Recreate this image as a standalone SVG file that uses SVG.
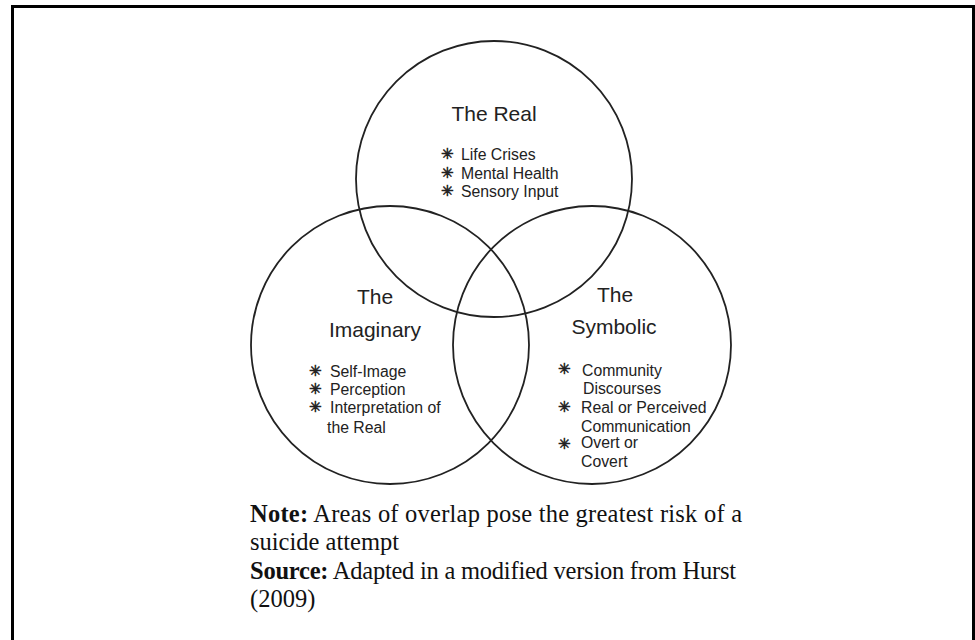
<svg xmlns="http://www.w3.org/2000/svg" width="975" height="640" viewBox="0 0 975 640">
<style>
.bg{fill:#fff}
.frame{fill:none;stroke:#000;stroke-width:3}
.circ{fill:none;stroke:#222;stroke-width:1.8}
.title{font-family:"Liberation Sans",Arial,sans-serif;font-size:21px;fill:#222;text-anchor:middle}
.item{font-family:"Liberation Sans",Arial,sans-serif;font-size:15.8px;fill:#222}
.star{font-family:"DejaVu Sans",sans-serif;font-size:15px;fill:#222;stroke:#222;stroke-width:0.6}
.note{font-family:"Liberation Serif","Times New Roman",serif;font-size:24.5px;fill:#111}
.b{font-weight:bold}
</style>
<rect class="bg" x="0" y="0" width="975" height="640"/>
<rect class="frame" x="12.5" y="6.5" width="961" height="700"/>
<g id="connectors"></g>
<g id="real">
<circle class="circ" cx="494" cy="179" r="138"/>
<text class="title" x="494" y="121">The Real</text>
<text class="star" x="441" y="159">&#x2733;&#xFE0E;</text><text class="item" x="461" y="160">Life Crises</text>
<text class="star" x="441" y="178">&#x2733;&#xFE0E;</text><text class="item" x="461" y="179">Mental Health</text>
<text class="star" x="441" y="196">&#x2733;&#xFE0E;</text><text class="item" x="461" y="197">Sensory Input</text>
</g>
<g id="imaginary">
<circle class="circ" cx="390" cy="345" r="139"/>
<text class="title" x="375" y="304">The</text>
<text class="title" x="375" y="337">Imaginary</text>
<text class="star" x="309" y="376">&#x2733;&#xFE0E;</text><text class="item" x="330" y="377">Self-Image</text>
<text class="star" x="309" y="394">&#x2733;&#xFE0E;</text><text class="item" x="330" y="395">Perception</text>
<text class="star" x="309" y="412">&#x2733;&#xFE0E;</text><text class="item" x="330" y="413">Interpretation of</text>
<text class="item" x="327" y="433">the Real</text>
</g>
<g id="symbolic">
<circle class="circ" cx="592" cy="345" r="139"/>
<text class="title" x="615" y="302">The</text>
<text class="title" x="614" y="334">Symbolic</text>
<text class="star" x="558" y="374">&#x2733;&#xFE0E;</text><text class="item" x="582" y="376">Community</text>
<text class="item" x="583" y="394">Discourses</text>
<text class="star" x="558" y="412">&#x2733;&#xFE0E;</text><text class="item" x="581" y="413">Real or Perceived</text>
<text class="item" x="581" y="432">Communication</text>
<text class="star" x="558" y="449">&#x2733;&#xFE0E;</text><text class="item" x="581" y="448">Overt or</text>
<text class="item" x="581" y="467">Covert</text>
</g>
<g id="note">
<text class="note" x="250" y="522" textLength="492" lengthAdjust="spacing"><tspan class="b">Note:</tspan> Areas of overlap pose the greatest risk of a</text>
<text class="note" x="250" y="550">suicide attempt</text>
<text class="note" x="250" y="579" textLength="486" lengthAdjust="spacing"><tspan class="b">Source:</tspan> Adapted in a modified version from Hurst</text>
<text class="note" x="250" y="607">(2009)</text>
</g>
</svg>
